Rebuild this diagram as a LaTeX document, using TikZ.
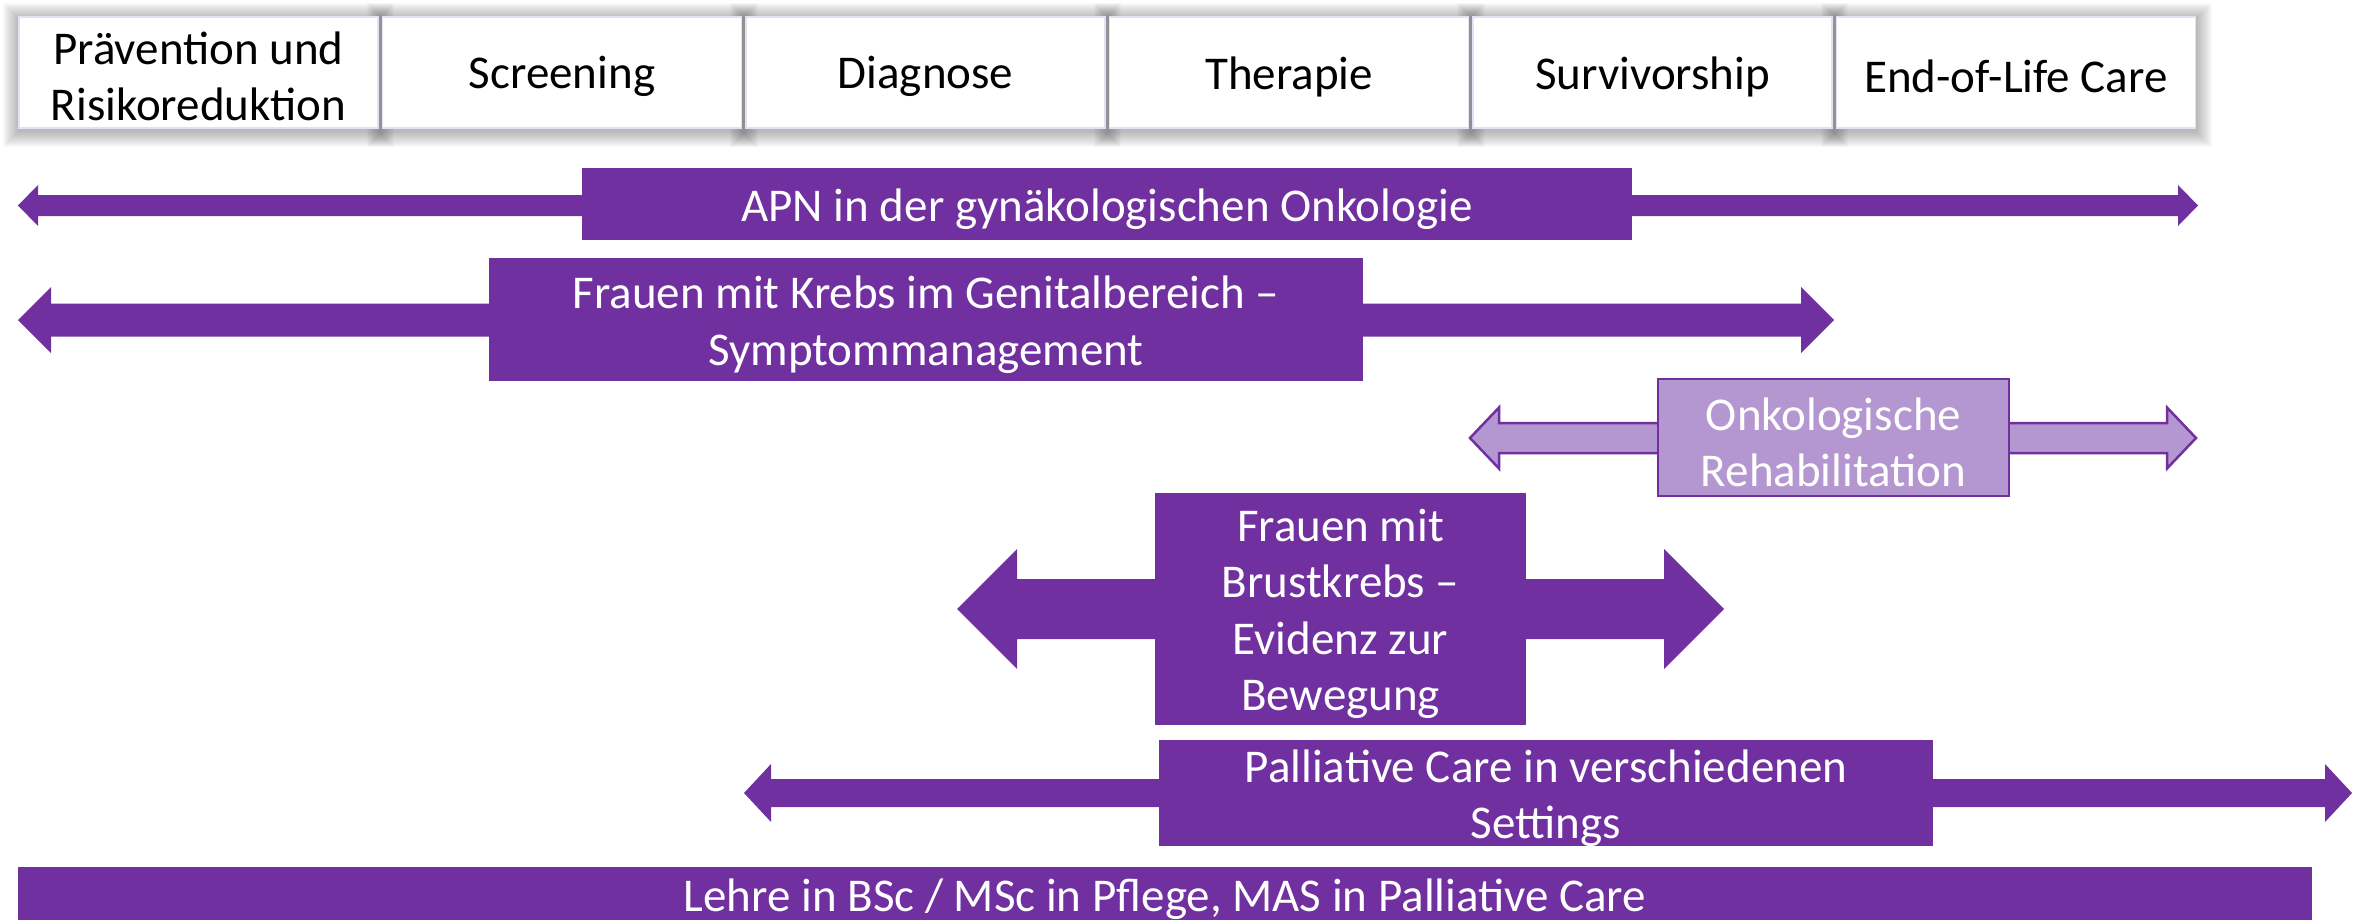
\documentclass[tikz,border=0pt]{standalone}
\usepackage{fontspec}
\setmainfont{Carlito}
\usetikzlibrary{calc}

\definecolor{apnpurple}{HTML}{7030A0}
\definecolor{rehalight}{HTML}{B497D0}
\definecolor{phaseedge}{HTML}{E2E2F5}

\newcommand\bodyfont{\fontsize{47}{56.5}\selectfont}

% double-headed block arrow between two tip coordinates
% #1 left tip, #2 right tip, #3 half shaft, #4 half head, #5 head length, #6 style
\newcommand\blockarrow[6]{%
  \path[#6] let \p1=(#1), \p2=(#2) in
    (\x1,\y1) -- (\x1+#5pt,\y1+#4pt) -- (\x1+#5pt,\y1+#3pt)
    -- (\x2-#5pt,\y1+#3pt) -- (\x2-#5pt,\y1+#4pt) -- (\x2,\y1)
    -- (\x2-#5pt,\y1-#4pt) -- (\x2-#5pt,\y1-#3pt)
    -- (\x1+#5pt,\y1-#3pt) -- (\x1+#5pt,\y1-#4pt) -- cycle;}

\tikzset{
  arrowdark/.style={fill=apnpurple},
  arrowlight/.style={fill=rehalight, draw=apnpurple, line width=2.5pt, line join=miter},
  phasebox/.style={rectangle, fill=white, draw=phaseedge, line width=1.8pt,
    minimum width=359pt, minimum height=111pt, inner sep=0pt},
  topicbox/.style={rectangle, fill=apnpurple, inner sep=0pt},
  topiclight/.style={topicbox, fill=rehalight, draw=apnpurple, line width=2.5pt},
  phasetext/.style={align=center, font=\bodyfont, text=black, inner sep=0pt},
  topictext/.style={align=center, font=\bodyfont, text=white, inner sep=0pt},
}

\begin{document}
\begin{tikzpicture}[x=1pt, y=-1pt]
\useasboundingbox (0,0) rectangle (2354,919);
\clip (0,0) rectangle (2354,919);

% ---- phase headers: soft glow first, then the boxes ----
\foreach \i in {0,...,5}{
  \pgfmathsetmacro\cx{198.5+363.5*\i}
  \foreach \k in {1,...,16}{
    \fill[black, opacity=0.02]
      (\cx-179.5-\k, 17-\k+2) rectangle (\cx+179.5+\k, 128+\k+3);
  }
}
\foreach \n/\x in {p1/198.5, p2/562, p3/925.5, p4/1289, p5/1652.5, p6/2016}
  \node[phasebox] (\n) at (\x,72.5) {};
\node[phasetext] (p1t) at ([yshift=-4pt]p1.center) {Prävention und\\Risikoreduktion};
\node[phasetext] (p2t) at ([yshift=-4pt]p2.center) {Screening};
\node[phasetext] (p3t) at ([yshift=-4pt]p3.center) {Diagnose};
\node[phasetext] (p4t) at ([yshift=-4pt]p4.center) {Therapie};
\node[phasetext] (p5t) at ([yshift=-4pt]p5.center) {Survivorship};
\node[phasetext] (p6t) at ([yshift=-4pt]p6.center) {End-of-Life Care};

% ---- arrow tips ----
\coordinate (apnL) at (18,205.5);
\coordinate (apnR) at (2198,205.5);
\coordinate (genL) at (18,320);
\coordinate (genR) at (1834,320);
\coordinate (rehaL) at (1470,438);
\coordinate (rehaR) at (2196,438);
\coordinate (brustL) at (957,609);
\coordinate (brustR) at (1724,609);
\coordinate (palL) at (744,793);
\coordinate (palR) at (2352,793);

% ---- APN ----
\blockarrow{apnL}{apnR}{10.5}{20.5}{20}{arrowdark}
\node[topicbox, minimum width=1050pt, minimum height=72pt] (apn) at (1107,204) {};
\node[topictext] (apnt) at ([yshift=-5pt]apn.center)
  {APN in der gynäkologischen Onkologie};

% ---- genital cancer ----
\blockarrow{genL}{genR}{16.5}{33}{33}{arrowdark}
\node[topicbox, minimum width=874pt, minimum height=123pt] (gen) at (926,319.5) {};
\node[topictext] (gent) at ([yshift=-5pt]gen.center)
  {Frauen mit Krebs im Genitalbereich –\\Symptommanagement};

% ---- rehabilitation ----
\blockarrow{rehaL}{rehaR}{15}{30.5}{29}{arrowlight}
\node[topiclight, minimum width=351pt, minimum height=117pt] (reha) at (1833.5,437.5) {};
\node[topictext] (rehat) at ([yshift=-5pt]reha.center)
  {Onkologische\\Rehabilitation};

% ---- breast cancer ----
\blockarrow{brustL}{brustR}{30}{60}{60}{arrowdark}
\node[topicbox, minimum width=371pt, minimum height=232pt] (brust) at (1340.5,609) {};
\node[topictext] (brustt) at ([yshift=-5pt]brust.center)
  {Frauen mit\\Brustkrebs –\\Evidenz zur\\Bewegung};

% ---- palliative care ----
\blockarrow{palL}{palR}{14}{29}{27}{arrowdark}
\node[topicbox, minimum width=774pt, minimum height=106pt] (pal) at (1546,793) {};
\node[topictext] (palt) at ([yshift=-5pt]pal.center)
  {Palliative Care in verschiedenen\\Settings};

% ---- teaching bar ----
\fill[apnpurple] (18,867) rectangle (2312,960);
\node[font=\bodyfont, text=white, anchor=base, inner sep=0pt] (lehre) at (1165,911)
  {Lehre in BSc / MSc in Pflege, MAS in Palliative Care};
\end{tikzpicture}
\end{document}
